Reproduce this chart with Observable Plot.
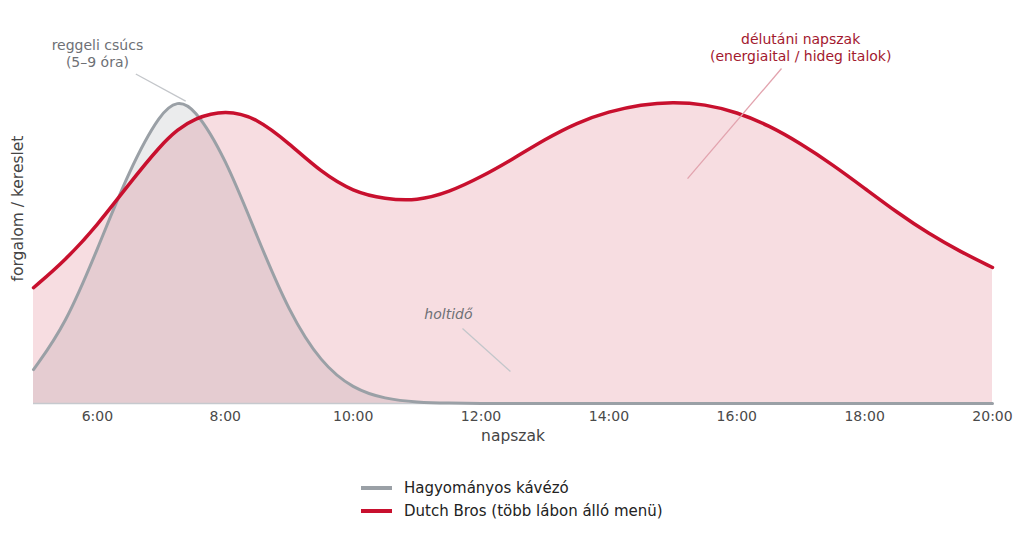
<!DOCTYPE html>
<html>
<head>
<meta charset="utf-8">
<script src="https://cdn.jsdelivr.net/npm/d3@7"></script>
<script src="https://cdn.jsdelivr.net/npm/@observablehq/plot@0.6"></script>
<style>
  body { margin: 0; background: #fff; font-family: "DejaVu Sans", sans-serif; }
  #wrap { position: relative; width: 1024px; height: 535px; }
  #legend { position: absolute; left: 361px; top: 476px; font-size: 15px; color: #222; }
  .row { display: flex; align-items: center; height: 23px; }
  .sw { display: inline-block; width: 31px; height: 0; border-top: 4px solid; margin-right: 12px; }
</style>
</head>
<body>
<div id="wrap">
  <div id="chart"></div>
  <div id="legend"></div>
</div>
<script>
// ---- data ----
const hours = [5, 5.5, 6, 6.5, 7, 7.25, 7.5, 8, 8.5, 9, 9.5, 10, 10.5, 11, 11.5, 12, 12.5, 13, 13.5, 14, 14.5, 15, 15.5, 16, 16.5, 17, 17.5, 18, 18.5, 19, 19.5, 20];
const traditional = [0.112, 0.26, 0.51, 0.775, 0.967, 1.0, 0.984, 0.815, 0.55, 0.30, 0.133, 0.048, 0.015, 0.004, 0.001, 0, 0, 0, 0, 0, 0, 0, 0, 0, 0, 0, 0, 0, 0, 0, 0, 0];
const dutchBros = [0.383, 0.474, 0.59, 0.728, 0.857, 0.905, 0.942, 0.972, 0.944, 0.86, 0.765, 0.70, 0.676, 0.670, 0.699, 0.749, 0.809, 0.874, 0.929, 0.966, 0.989, 0.998, 0.99, 0.964, 0.92, 0.86, 0.79, 0.712, 0.633, 0.562, 0.502, 0.45];
const seriesNames = ["Hagyományos kávézó", "Dutch Bros (több lábon álló menü)"];
const tickHours = [6, 8, 10, 12, 14, 16, 18, 20];
const tickLabels = ["6:00", "8:00", "10:00", "12:00", "14:00", "16:00", "18:00", "20:00"];
const xLabel = "napszak";
const yLabel = "forgalom / kereslet";

// annotations (data units: hour, relative demand)
const noteMorning = {text: "reggeli csúcs\n(5–9 óra)", x: 6.0, y: 1.16, x1: 6.6, y1: 1.09, x2: 7.38, y2: 1.0};
const noteAfternoon = {text: "délutáni napszak\n(energiaital / hideg italok)", x: 17.0, y: 1.18, x1: 16.70, y1: 1.108, x2: 15.23, y2: 0.744};
const noteDead = {text: "holtidő", x: 11.49, y: 0.294, x1: 11.71, y1: 0.248, x2: 12.46, y2: 0.106};

const gray = "#9aa0a6";
const red = "#c8102e";

const grayData = hours.map((h, i) => ({h, v: traditional[i]}));
const redData = hours.map((h, i) => ({h, v: dutchBros[i]}));
const curve = d3.curveBasis;

const chart = Plot.plot({
  width: 1024,
  height: 460,
  marginLeft: 33,
  marginRight: 32,
  marginTop: 13,
  marginBottom: 57,
  style: {fontFamily: "DejaVu Sans, sans-serif", background: "#fff", overflow: "visible"},
  x: {domain: [5, 20]},
  y: {domain: [0, 1.29], axis: null},
  marks: [
    Plot.areaY(grayData, {x: "h", y: "v", fill: gray, fillOpacity: 0.2, curve}),
    Plot.areaY(redData, {x: "h", y: "v", fill: red, fillOpacity: 0.14, curve}),
    Plot.ruleY([0], {stroke: "#c6c9ce", strokeWidth: 1.5}),
    Plot.lineY(grayData, {x: "h", y: "v", stroke: gray, strokeWidth: 3, curve}),
    Plot.lineY(redData, {x: "h", y: "v", stroke: red, strokeWidth: 3.5, curve}),
    Plot.axisX({ticks: tickHours, tickFormat: (d) => tickLabels[tickHours.indexOf(d)], tickSize: 0, tickPadding: 8, fontSize: 14, color: "#4a4a4a", label: null}),
    Plot.text([xLabel], {frameAnchor: "bottom", dy: 37, fontSize: 15.5, fill: "#444"}),
    Plot.text([yLabel], {frameAnchor: "left", textAnchor: "middle", rotate: -90, dx: -15, fontSize: 15.5, fill: "#444"}),
    // annotation leaders
    Plot.link([noteMorning, noteDead], {x1: "x1", y1: "y1", x2: "x2", y2: "y2", stroke: "#c3c6ca", strokeWidth: 1.3}),
    Plot.link([noteAfternoon], {x1: "x1", y1: "y1", x2: "x2", y2: "y2", stroke: "#e2a3ae", strokeWidth: 1.3}),
    Plot.text([noteMorning], {x: "x", y: "y", text: "text", fontSize: 14, fill: "#6e7075", lineHeight: 1.2}),
    Plot.text([noteAfternoon], {x: "x", y: "y", text: "text", fontSize: 14, fill: "#a3192f", lineHeight: 1.2}),
    Plot.text([noteDead], {x: "x", y: "y", text: "text", fontSize: 14, fill: "#6e7075", fontStyle: "italic"})
  ]
});
document.getElementById("chart").appendChild(chart);

const legend = document.getElementById("legend");
[gray, red].forEach((c, i) => {
  const row = document.createElement("div");
  row.className = "row";
  const sw = document.createElement("span");
  sw.className = "sw";
  sw.style.borderTopColor = c;
  const t = document.createElement("span");
  t.textContent = seriesNames[i];
  row.appendChild(sw);
  row.appendChild(t);
  legend.appendChild(row);
});
</script>
</body>
</html>
